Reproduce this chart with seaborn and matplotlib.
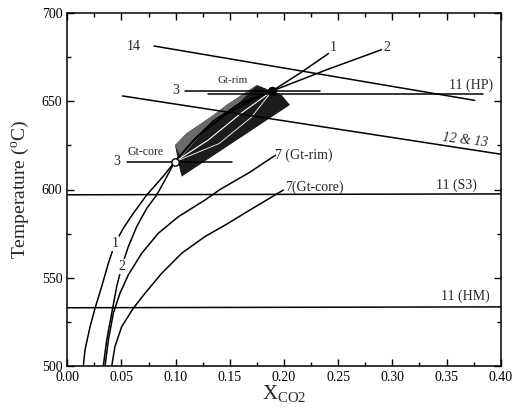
import matplotlib
matplotlib.use("Agg")
import matplotlib.pyplot as plt
import seaborn as sns
import numpy as np
from matplotlib.ticker import MultipleLocator

# ---------------- data ----------------
c1_x = [0.0148, 0.0163, 0.021, 0.0256, 0.0317, 0.0379, 0.044, 0.0517, 0.0609, 0.0733, 0.0886, 0.099,
        0.115, 0.135, 0.160, 0.189, 0.215, 0.241]
c1_T = [500, 509, 522.3, 532.7, 545, 558.2, 569.5, 578, 586.5, 596.9, 607.5, 615.6,
        627, 639, 649, 655.8, 666, 677]

c2_x = [0.0332, 0.0364, 0.041, 0.0456, 0.0502, 0.0563, 0.064, 0.0733, 0.0825, 0.0902, 0.099,
        0.120, 0.145, 0.168, 0.189, 0.240, 0.290]
c2_T = [500, 514.7, 529.9, 545, 556.3, 567.6, 578.9, 589.3, 596.9, 605.4, 615.6,
        630, 642, 650, 655.8, 668, 679.2]

c7rim_x = [0.0348, 0.0379, 0.0425, 0.0486, 0.0563, 0.0687, 0.084, 0.1025, 0.127, 0.141, 0.1685, 0.192]
c7rim_T = [500, 514.7, 529.9, 541.2, 551.6, 563.9, 575.2, 584.6, 594.0, 600.0, 609.8, 619.4]

c7core_x = [0.041, 0.044, 0.0502, 0.0609, 0.0717, 0.0871, 0.1056, 0.127, 0.1475, 0.1686, 0.1994]
c7core_T = [500, 511, 522.3, 532.7, 541.2, 552.5, 563.9, 573.3, 580.5, 588.4, 599.7]

l14_x = [0.080, 0.376]
l14_T = [681.3, 650.5]
l1213_x = [0.051, 0.400]
l1213_T = [653.0, 620.0]
hp_x = [0.130, 0.384]
hp_T = [654.3, 654.3]
s3_x = [0.0, 0.40]
s3_T = [597.0, 597.5]
hm_x = [0.0, 0.40]
hm_T = [533.0, 533.5]
rim3_x = [0.109, 0.233]
rim3_T = [656.0, 656.0]
core3_x = [0.055, 0.152]
core3_T = [615.6, 615.6]

core_pt = (0.099, 615.6)
rim_pt = (0.189, 655.8)

shade_x = [0.1056, 0.2055, 0.198, 0.175, 0.147, 0.135, 0.110, 0.0994, 0.104]
shade_T = [607.3, 647.9, 653.5, 659.2, 647.9, 642.2, 631.8, 625.1, 611.0]

xticks = [0.00, 0.05, 0.10, 0.15, 0.20, 0.25, 0.30, 0.35, 0.40]
yticks = [500, 550, 600, 650, 700]

# ---------------- figure ----------------
sns.set_style("ticks")
plt.rcParams['font.family'] = ['Liberation Serif', 'DejaVu Serif']
plt.rcParams['mathtext.fontset'] = 'custom'
plt.rcParams['mathtext.rm'] = 'Liberation Serif'

fig = plt.figure(figsize=(5.14, 4.09), dpi=100)
ax = fig.add_axes([67.3/514, 1-366/409, (500.7-67.3)/514, (366-13)/409])

# shaded region
ax.fill(shade_x, shade_T, color='#1c1c1c', lw=0, zorder=1)
# lighter stippled upper-left part
ax.fill([0.0994, 0.110, 0.135, 0.147, 0.175, 0.160, 0.130, 0.105],
        [625.1, 631.8, 642.2, 647.9, 659.2, 650, 636, 618],
        color='#6a6a6a', lw=0, zorder=1)

lw = 1.1
for xs, ts in [(c1_x, c1_T), (c2_x, c2_T), (c7rim_x, c7rim_T), (c7core_x, c7core_T),
               (l14_x, l14_T), (l1213_x, l1213_T), (hp_x, hp_T), (s3_x, s3_T),
               (hm_x, hm_T), (rim3_x, rim3_T), (core3_x, core3_T)]:
    sns.lineplot(x=xs, y=ts, sort=False, estimator=None, color='black', lw=lw, ax=ax, zorder=3)

# white lines inside shaded region
ax.plot([0.099, 0.13, 0.16, 0.189], [615.6, 628, 643, 655.8], color='white', lw=0.8, zorder=2)
ax.plot([0.099, 0.14, 0.17, 0.189], [615.6, 626, 641, 655.8], color='white', lw=0.6, zorder=2)

ax.scatter([core_pt[0]], [core_pt[1]], s=28, facecolor='white', edgecolor='black', lw=1, zorder=5)
ax.scatter([rim_pt[0]], [rim_pt[1]], s=34, facecolor='black', edgecolor='black', zorder=5)

ax.set_xlim(0, 0.40)
ax.set_ylim(500, 700)
ax.set_xticks(xticks)
ax.set_yticks(yticks)
ax.set_xticklabels([f"{v:.2f}" for v in xticks])
ax.xaxis.set_minor_locator(MultipleLocator(0.025))
ax.yaxis.set_minor_locator(MultipleLocator(25))
ax.tick_params(which='both', direction='in', top=True, right=True, labelsize=10, colors='black')
ax.tick_params(which='major', length=5, width=1)
ax.tick_params(which='minor', length=3, width=1)
for s in ax.spines.values():
    s.set_linewidth(1.1)
    s.set_color('black')

ax.set_ylabel("Temperature ($\\mathregular{^oC}$)", fontsize=14, labelpad=8)
ax.set_xlabel("X$_{\\mathregular{CO2}}$", fontsize=15, labelpad=0)

fs = 10
bb = dict(facecolor='white', edgecolor='none', pad=0.5)
ax.text(0.0616, 681.3, "14", fontsize=fs, ha='center', va='center')
ax.text(0.245, 680.5, "1", fontsize=fs, ha='center', va='center')
ax.text(0.295, 680.5, "2", fontsize=fs, ha='center', va='center')
ax.text(0.393, 659.0, "11 (HP)", fontsize=fs, ha='right', va='center')
ax.text(0.367, 628.0, "12 & 13", fontsize=fs, ha='center', va='center', style='italic', rotation=-7)
ax.text(0.359, 602.5, "11 (S3)", fontsize=fs, ha='center', va='center')
ax.text(0.367, 539.3, "11 (HM)", fontsize=fs, ha='center', va='center')
ax.text(0.100, 656.0, "3", fontsize=fs, ha='center', va='center')
ax.text(0.046, 615.8, "3", fontsize=fs, ha='center', va='center')
ax.text(0.153, 661.5, "Gt-rim", fontsize=8, ha='center', va='center')
ax.text(0.072, 621.4, "Gt-core", fontsize=8.5, ha='center', va='center')
ax.text(0.192, 619.4, "7 (Gt-rim)", fontsize=fs, ha='left', va='center')
ax.text(0.201, 601.0, "7(Gt-core)", fontsize=fs, ha='left', va='center')
ax.text(0.044, 569.5, "1", fontsize=fs, ha='center', va='center', bbox=bb, zorder=4)
ax.text(0.0502, 556.3, "2", fontsize=fs, ha='center', va='center', bbox=bb, zorder=4)

fig.savefig("out.png", dpi=100)
